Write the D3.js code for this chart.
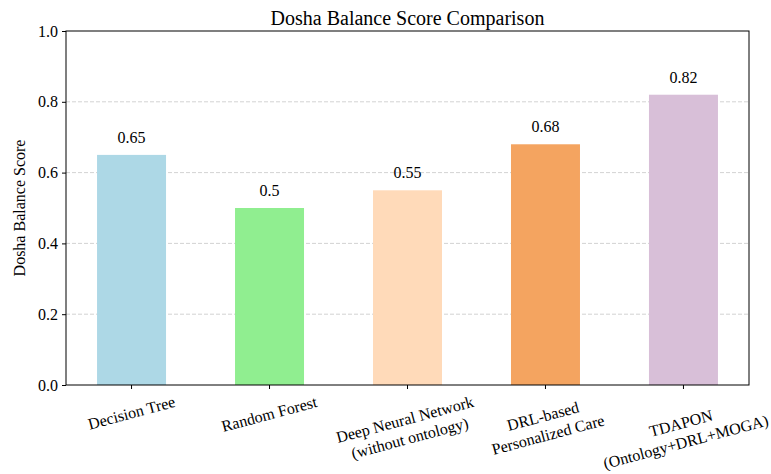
<!DOCTYPE html>
<html lang="en">
<head>
<meta charset="utf-8">
<title>Dosha Balance Score Comparison</title>
<script src="https://d3js.org/d3.v7.min.js"></script>
<style>
  body { margin: 0; background: #fff; }
  svg text { font-family: "Liberation Serif", "Times New Roman", serif; fill: #000; }
</style>
</head>
<body>
<div id="chart"></div>
<script>
// data
var models = ["Decision Tree", "Random Forest", "Deep Neural Network\n(without ontology)", "DRL-based\nPersonalized Care", "TDAPON\n(Ontology+DRL+MOGA)"];
var scores = [0.65, 0.50, 0.55, 0.68, 0.82];
var colors = ["#add8e6", "#90ee90", "#ffdab9", "#f4a460", "#d8bfd8"];
var yTicks = [0.0, 0.2, 0.4, 0.6, 0.8, 1.0];

var W = 771, H = 474;
var margin = {top: 31, right: 22, bottom: 89, left: 66};
var width = W - margin.left - margin.right,
    height = H - margin.top - margin.bottom;
var fs = 16;

var svg = d3.select("#chart").append("svg")
    .attr("width", W).attr("height", H);

var g = svg.append("g")
    .attr("transform", "translate(" + margin.left + "," + margin.top + ")");

// bars of width 0.5, x limits like matplotlib's auto margins
var x = d3.scaleLinear().domain([-0.475, models.length - 1 + 0.475]).range([0, width]);
var y = d3.scaleLinear().domain([0, 1]).range([height, 0]);
var barW = x(0.5) - x(0);

// grid
g.selectAll(".grid")
    .data(yTicks.filter(function(d) { return d > 0 && d < 1; }))
    .enter().append("line")
    .attr("x1", 0).attr("x2", width)
    .attr("y1", function(d) { return y(d); })
    .attr("y2", function(d) { return y(d); })
    .attr("stroke", "#b0b0b0")
    .attr("stroke-opacity", 0.7)
    .attr("stroke-dasharray", "4,2")
    .attr("stroke-width", 0.8);

// bars
g.selectAll(".bar")
    .data(scores)
    .enter().append("rect")
    .attr("x", function(d, i) { return x(i) - barW / 2; })
    .attr("y", function(d) { return y(d); })
    .attr("width", barW)
    .attr("height", function(d) { return height - y(d); })
    .attr("fill", function(d, i) { return colors[i]; });

// value labels
g.selectAll(".val")
    .data(scores)
    .enter().append("text")
    .attr("x", function(d, i) { return x(i); })
    .attr("y", function(d) { return y(d) - 12; })
    .attr("text-anchor", "middle")
    .style("font-size", fs + "px")
    .text(function(d) { return String(+d.toFixed(2)); });

// y axis
var yAxis = d3.axisLeft(y).tickValues(yTicks).tickFormat(d3.format(".1f")).tickSize(4).tickPadding(4);
var ya = g.append("g").call(yAxis);
ya.select(".domain").remove();
ya.selectAll("text").style("font-size", fs + "px").style("font-family", null);

// x axis ticks
var xa = g.append("g").attr("transform", "translate(0," + height + ")");
xa.selectAll("line")
    .data(models)
    .enter().append("line")
    .attr("x1", function(d, i) { return x(i); })
    .attr("x2", function(d, i) { return x(i); })
    .attr("y1", 0).attr("y2", 4)
    .attr("stroke", "#000");

// rotated category labels: rotated box centred on tick, top just under it
xa.selectAll(".lbl")
    .data(models)
    .enter().append("g")
    .attr("class", "lbl")
    .each(function(d, i) {
        var outer = d3.select(this);
        var lines = d.split("\n");
        var t = outer.append("g").attr("transform", "rotate(-15)")
            .append("text")
            .attr("text-anchor", "middle")
            .style("font-size", fs + "px");
        lines.forEach(function(s, j) {
            t.append("tspan")
                .attr("x", 0)
                .attr("y", (j - (lines.length - 1) / 2) * 1.2 * fs + 0.35 * fs)
                .text(s);
        });
        var bb = this.getBBox();
        outer.attr("transform", "translate(" + (x(i) - (bb.x + bb.width / 2)) + "," + (8 - bb.y) + ")");
    });

// frame
g.append("rect")
    .attr("width", width).attr("height", height)
    .attr("fill", "none").attr("stroke", "#000").attr("stroke-width", 1);

// title
svg.append("text")
    .attr("x", margin.left + width / 2).attr("y", 25)
    .attr("text-anchor", "middle")
    .style("font-size", "20px")
    .text("Dosha Balance Score Comparison");

// y label
svg.append("text")
    .attr("transform", "translate(25," + (margin.top + height / 2) + ") rotate(-90)")
    .attr("text-anchor", "middle")
    .style("font-size", fs + "px")
    .text("Dosha Balance Score");
</script>
</body>
</html>
